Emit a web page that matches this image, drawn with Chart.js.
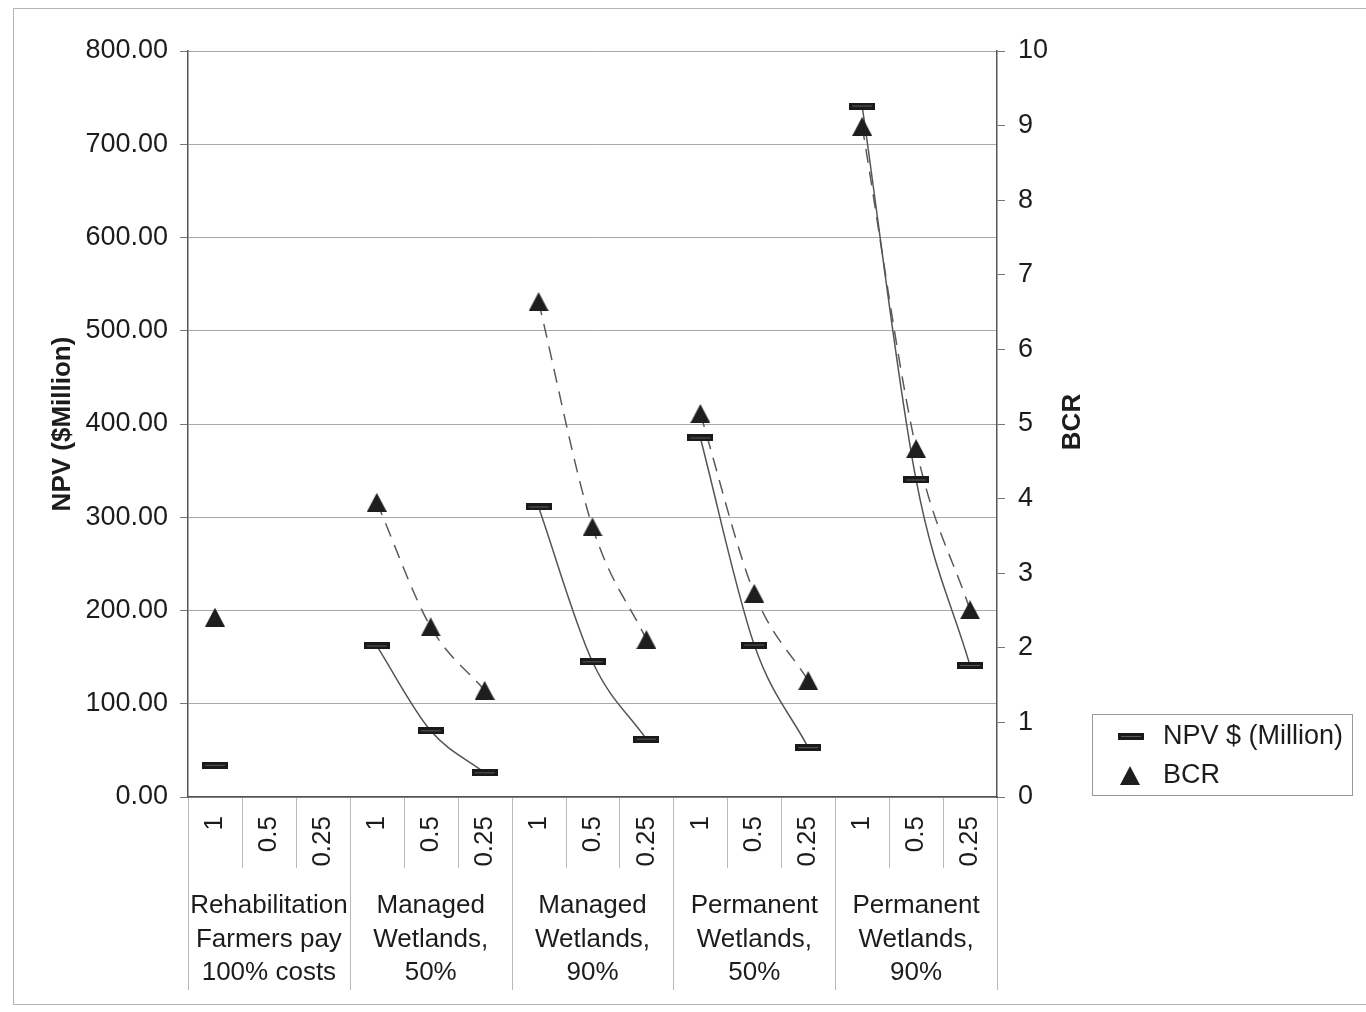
<!DOCTYPE html>
<html>
<head>
<meta charset="utf-8">
<title>NPV and BCR by scenario</title>
<script src="https://cdn.jsdelivr.net/npm/chart.js@4.4.1/dist/chart.umd.min.js"></script>
<style>
  html, body { margin: 0; padding: 0; background: #fff; }
  #wrap { width: 1366px; height: 1012px; position: relative; }
</style>
</head>
<body>
<div id="wrap"><canvas id="chart" width="1366" height="1012"></canvas></div>
<script>
// Scenario groups (three lines each under the axis)
const groupLabels = [
  ['Rehabilitation', 'Farmers pay', '100% costs'],
  ['Managed', 'Wetlands,', '50%'],
  ['Managed', 'Wetlands,', '90%'],
  ['Permanent', 'Wetlands,', '50%'],
  ['Permanent', 'Wetlands,', '90%']
];
// Cost share levels within each group
const shareLevels = ['1', '0.5', '0.25'];
// One category per (group, share level)
const categories = groupLabels.flatMap(() => shareLevels);

// Net present value, $ million
const npvValues = [34, null, null, 162, 71, 26, 311, 145, 62, 385, 163, 53, 741, 340, 141];
// Benefit cost ratio
const bcrValues = [2.41, null, null, 3.95, 2.28, 1.43, 6.64, 3.62, 2.11, 5.14, 2.73, 1.56, 8.99, 4.67, 2.51];

// Groups that carry a trend curve
const trendGroups = [1, 2, 3, 4];

const FONT = '"Liberation Sans", Arial, Helvetica, sans-serif';
const INK = '#1c1c1c';

// Marker images: a flat dash for NPV and a solid triangle for BCR
function dashMarker() {
  const c = document.createElement('canvas');
  c.width = 26; c.height = 7;
  const g = c.getContext('2d');
  g.fillStyle = '#1a1a1a';
  g.fillRect(0, 0, 26, 7);
  g.fillStyle = '#5a5a5a';
  g.fillRect(3, 3, 20, 1);
  return c;
}
function triangleMarker() {
  const c = document.createElement('canvas');
  c.width = 20; c.height = 19;
  const g = c.getContext('2d');
  g.fillStyle = '#1e1e1e';
  g.beginPath();
  g.moveTo(10, 0); g.lineTo(20, 19); g.lineTo(0, 19); g.closePath();
  g.fill();
  return c;
}
const dashImg = dashMarker();
const triImg = triangleMarker();

const inGroup = (arr, g) => arr.map((v, i) => (Math.floor(i / 3) === g ? v : null));

const datasets = [];
trendGroups.forEach(g => {
  datasets.push({
    label: 'npv-trend-' + g,
    data: inGroup(npvValues, g),
    yAxisID: 'y',
    borderColor: '#555',
    borderWidth: 1.5,
    pointRadius: 0,
    cubicInterpolationMode: 'monotone',
    spanGaps: false,
    order: 3
  });
  datasets.push({
    label: 'bcr-trend-' + g,
    data: inGroup(bcrValues, g),
    yAxisID: 'y1',
    borderColor: '#5a5a5a',
    borderWidth: 1.5,
    borderDash: [14, 9],
    pointRadius: 0,
    cubicInterpolationMode: 'monotone',
    spanGaps: false,
    order: 3
  });
});
datasets.push({
  label: 'NPV $ (Million)',
  data: npvValues,
  yAxisID: 'y',
  showLine: false,
  pointStyle: dashImg,
  pointRadius: 10,
  order: 1
});
datasets.push({
  label: 'BCR',
  data: bcrValues,
  yAxisID: 'y1',
  showLine: false,
  pointStyle: triImg,
  pointRadius: 10,
  order: 2
});

const decor = {
  id: 'decor',
  beforeDraw(chart) {
    const ctx = chart.ctx;
    ctx.save();
    ctx.fillStyle = '#fff';
    ctx.fillRect(0, 0, chart.width, chart.height);
    ctx.restore();
  },
  afterDraw(chart) {
    const ctx = chart.ctx;
    const x = chart.scales.x;
    const area = chart.chartArea;
    const n = categories.length;
    const step = (area.right - area.left) / n;
    ctx.save();

    // separators below the category axis
    ctx.strokeStyle = '#b8b8b8';
    ctx.lineWidth = 1;
    for (let i = 0; i <= n; i++) {
      const px = Math.round(area.left + i * step) + 0.5;
      const bottom = (i % 3 === 0) ? 990 : 868;
      ctx.beginPath();
      ctx.moveTo(px, area.bottom + 1);
      ctx.lineTo(px, bottom);
      ctx.stroke();
    }

    // group names
    ctx.fillStyle = INK;
    ctx.font = '26px ' + FONT;
    ctx.textAlign = 'center';
    ctx.textBaseline = 'middle';
    groupLabels.forEach((lines, g) => {
      const cx = x.getPixelForValue(g * 3 + 1);
      lines.forEach((t, k) => ctx.fillText(t, cx, 906 + k * 33.5));
    });

    // secondary axis title
    ctx.save();
    ctx.translate(1073, 422);
    ctx.rotate(-Math.PI / 2);
    ctx.font = 'bold 26px ' + FONT;
    ctx.fillText('BCR', 0, 0);
    ctx.restore();

    // legend
    ctx.strokeStyle = '#9a9a9a';
    ctx.lineWidth = 1;
    ctx.strokeRect(1092.5, 714.5, 260, 81);
    ctx.drawImage(dashImg, 1118, 733);
    ctx.drawImage(triImg, 1120, 766);
    ctx.textAlign = 'left';
    ctx.font = '27px ' + FONT;
    ctx.fillText('NPV $ (Million)', 1163, 737);
    ctx.fillText('BCR', 1163, 776);

    // outer frame
    ctx.strokeStyle = '#b5b5b5';
    ctx.strokeRect(13.5, 8.5, 1370, 996);
    ctx.restore();
  }
};

new Chart(document.getElementById('chart'), {
  type: 'line',
  data: { labels: categories, datasets },
  plugins: [decor],
  options: {
    responsive: false,
    animation: false,
    layout: { padding: { top: 51, left: 0, right: 0, bottom: 0 } },
    plugins: { legend: { display: false }, tooltip: { enabled: false } },
    scales: {
      x: {
        type: 'category',
        offset: true,
        grid: { display: false, offset: true },
        border: { display: true, color: '#555', width: 1.5 },
        ticks: {
          autoSkip: false, maxRotation: 90, minRotation: 90, padding: 11,
          color: INK, font: { family: FONT, size: 26 }
        },
        afterFit(s) { s.height = 215; }
      },
      y: {
        position: 'left',
        min: 0, max: 800,
        ticks: {
          stepSize: 100, padding: 12, color: INK,
          font: { family: FONT, size: 27 },
          callback: v => Number(v).toFixed(2)
        },
        grid: { color: '#a8a8a8', lineWidth: 1, tickLength: 8, tickColor: '#777' },
        border: { color: '#555', width: 1.5 },
        title: {
          display: true, text: 'NPV ($Million)', color: INK,
          font: { family: FONT, size: 26, weight: 'bold' },
          padding: { top: 47, bottom: 0 }
        },
        afterFit(s) { s.width = 188; }
      },
      y1: {
        position: 'right',
        min: 0, max: 10,
        ticks: {
          stepSize: 1, padding: 13, color: INK,
          font: { family: FONT, size: 27 }
        },
        grid: { drawOnChartArea: false, tickLength: 8, color: '#777' },
        border: { color: '#555', width: 1.5 },
        afterFit(s) { s.width = 369; }
      }
    }
  }
});
</script>
</body>
</html>
